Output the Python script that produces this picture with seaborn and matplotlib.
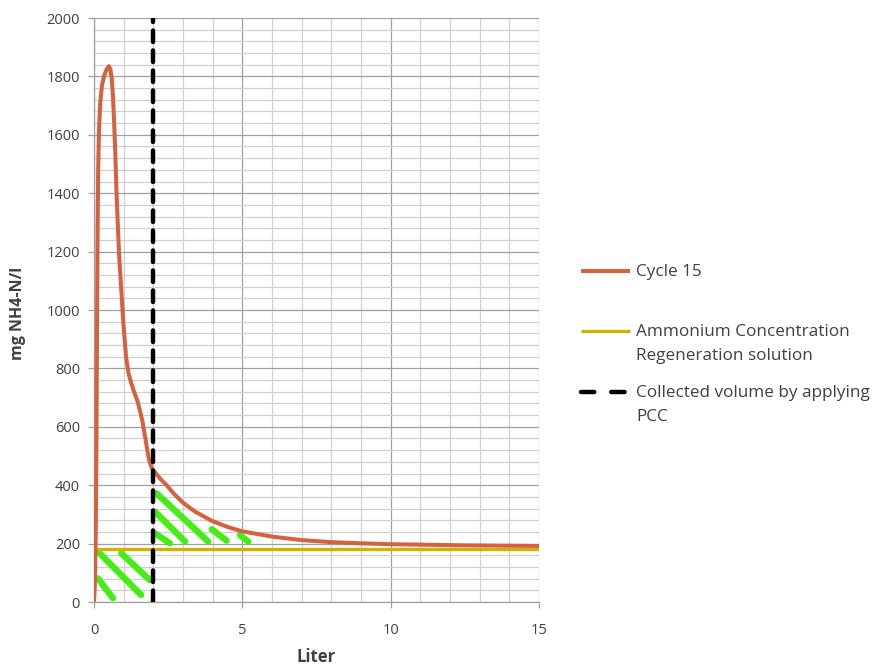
import matplotlib
matplotlib.use("Agg")
import matplotlib.pyplot as plt
from matplotlib.lines import Line2D
from matplotlib.ticker import MultipleLocator
import pandas as pd
import seaborn as sns

# Ammonium concentration in the eluate over the regenerated volume (cycle 15)
liters = [0, 0.03, 0.06, 0.08, 0.10, 0.12, 0.14, 0.17, 0.21, 0.27, 0.35, 0.43,
          0.50, 0.55, 0.60, 0.64, 0.68, 0.72, 0.76, 0.80, 0.85, 0.92, 0.99,
          1.08, 1.16, 1.24, 1.35, 1.46, 1.55, 1.63, 1.74, 1.85, 1.95, 2.08,
          2.25, 2.42, 2.70, 3.00, 3.40, 3.97, 4.50, 5.00, 6.00, 7.00, 8.00,
          9.00, 10.00, 12.50, 15.00]
cycle15 = [0, 60, 250, 500, 900, 1250, 1480, 1620, 1710, 1770, 1805, 1825,
           1835, 1825, 1790, 1730, 1640, 1530, 1400, 1297, 1182, 1068, 954,
           840, 785, 755, 720, 690, 655, 620, 555, 488, 458, 441,
           420, 403, 370, 340, 310, 278, 257, 242, 224, 212, 205,
           201, 198, 194, 192]

# Concentration of the regeneration solution (constant)
regen_x = [0, 15]
regen_conc = [183, 183]

# Volume collected when applying PCC
pcc_x = [2.0, 2.0]
pcc_y = [0, 2000]

# Hatching that marks the areas between the curves (start/end points, data units)
hatch_x0 = [0.13, 0.19, 0.92, 2.11, 2.06, 2.06, 3.97, 4.92]
hatch_y0 = [81, 167, 167, 372, 309, 235, 249, 229]
hatch_x1 = [0.64, 1.59, 1.88, 3.85, 3.07, 2.56, 4.47, 5.20]
hatch_y1 = [13, 24, 75, 207, 207, 201, 210, 207]

x_ticks = [0, 5, 10, 15]
y_ticks = list(range(0, 2001, 200))

legend_labels = ["Cycle 15",
                 "Ammonium Concentration\nRegeneration solution",
                 "Collected volume by applying\nPCC"]

RED = "#D6613F"
GOLD = "#D1B200"
GREEN = "#44EE14"
TEXT = "#404040"

sns.set_theme(style="white")
plt.rcParams["font.family"] = ["Open Sans", "DejaVu Sans"]

fig = plt.figure(figsize=(8.75, 6.68), dpi=100)
ax = fig.add_axes([94 / 875, 1 - 602 / 668, (539 - 94) / 875, (602 - 18) / 668])

df_cycle = pd.DataFrame({"Liter": liters, "mg": cycle15})
df_regen = pd.DataFrame({"Liter": regen_x, "mg": regen_conc})
df_pcc = pd.DataFrame({"Liter": pcc_x, "mg": pcc_y})

for x0, y0, x1, y1 in zip(hatch_x0, hatch_y0, hatch_x1, hatch_y1):
    ax.plot([x0, x1], [y0, y1], color=GREEN, lw=4.6, solid_capstyle="round",
            zorder=2)

sns.lineplot(data=df_regen, x="Liter", y="mg", color=GOLD, lw=2.4,
             estimator=None, sort=False, ax=ax, zorder=3)
sns.lineplot(data=df_cycle, x="Liter", y="mg", color=RED, lw=2.9,
             estimator=None, sort=False, ax=ax, zorder=4)
sns.lineplot(data=df_pcc, x="Liter", y="mg", color="black", lw=3.2,
             estimator=None, sort=False, ax=ax, zorder=5)
pcc_line = ax.get_lines()[-1]
pcc_line.set_dashes([2.6, 1.9])
pcc_line.set_dash_capstyle("round")
ax.get_lines()[-2].set_solid_joinstyle("round")

ax.set_xlim(0, 15)
ax.set_ylim(0, 2000)
ax.set_xticks(x_ticks)
ax.set_yticks(y_ticks)
ax.xaxis.set_minor_locator(MultipleLocator(1))
ax.yaxis.set_minor_locator(MultipleLocator(40))
ax.grid(which="minor", color="#D0D0D0", lw=0.9, zorder=0)
ax.grid(which="major", color="#A0A0A0", lw=0.9, zorder=0)
ax.set_axisbelow(True)

for side in ["top", "right"]:
    ax.spines[side].set_visible(False)
for side in ["left", "bottom"]:
    ax.spines[side].set_color("#A0A0A0")
    ax.spines[side].set_linewidth(0.9)

ax.tick_params(axis="both", which="major", length=4, width=0.9,
               color="#A0A0A0", labelcolor=TEXT, labelsize=10.5,
               bottom=True, left=True)
ax.tick_params(axis="y", pad=6)
ax.tick_params(axis="x", pad=11)
ax.tick_params(which="minor", length=0)

ax.set_xlabel("Liter", fontsize=12, fontweight="bold", color=TEXT)
ax.set_ylabel("mg NH4-N/l", fontsize=11.5, fontweight="bold", color=TEXT)
ax.xaxis.set_label_coords((316 - 94) / 445, -(648 - 602) / 584)
ax.yaxis.set_label_coords(-(94 - 26) / 445, (602 - 313) / 584)

# Legend at the right, handles level with the first line of each label
W, H = 875, 668
entries = [
    (271, dict(color=RED, lw=2.9, solid_capstyle="butt")),
    (331, dict(color=GOLD, lw=2.4, solid_capstyle="butt")),
    (392, dict(color="black", lw=3.2, dashes=[3.0, 3.8], dash_capstyle="round")),
]
for (y, style), label in zip(entries, legend_labels):
    fig.add_artist(Line2D([581 / W, 630 / W], [1 - y / H, 1 - y / H],
                          transform=fig.transFigure, **style))
    fig.text(636 / W, 1 - (y - 7) / H, label, ha="left", va="top",
             fontsize=12.3, color=TEXT, linespacing=1.66)

fig.savefig("out.png", dpi=100)
